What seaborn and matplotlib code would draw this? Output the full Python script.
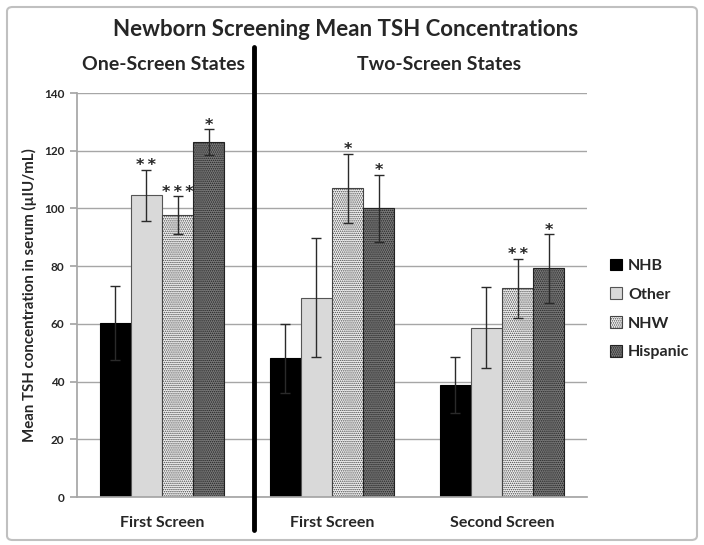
import pandas as pd
import seaborn as sns
import matplotlib.pyplot as plt
from matplotlib.patches import Patch, FancyBboxPatch
from matplotlib.lines import Line2D

# categories (internal keys + the labels shown under each bar group)
screens = ["one_first", "two_first", "two_second"]
screen_labels = ["First Screen", "First Screen", "Second Screen"]
groups = ["NHB", "Other", "NHW", "Hispanic"]

# mean TSH (µIU/mL), one list per group
nhb_mean = [60.2, 48.0, 38.8]
other_mean = [104.6, 69.1, 58.7]
nhw_mean = [97.7, 107.0, 72.3]
hisp_mean = [123.0, 100.0, 79.2]

# error bar half-widths
nhb_err = [12.8, 12.0, 9.6]
other_err = [8.8, 20.5, 13.9]
nhw_err = [6.5, 12.0, 10.3]
hisp_err = [4.5, 11.6, 11.9]

# significance marks
nhb_star = ["", "", ""]
other_star = ["**", "", ""]
nhw_star = ["***", "*", "**"]
hisp_star = ["*", "*", "*"]

means = [nhb_mean, other_mean, nhw_mean, hisp_mean]
errs = [nhb_err, other_err, nhw_err, hisp_err]
stars = [nhb_star, other_star, nhw_star, hisp_star]

rows = []
for g, m_list, e_list, s_list in zip(groups, means, errs, stars):
    for s, m, e, st in zip(screens, m_list, e_list, s_list):
        rows.append({"screen": s, "group": g, "mean": m, "err": e, "star": st})
df = pd.DataFrame(rows)

sns.set_theme(style="white")
plt.rcParams["font.family"] = ["Lato", "DejaVu Sans"]
plt.rcParams["hatch.linewidth"] = 0.7

faces = {"NHB": "#000000", "Other": "#d9d9d9", "NHW": "#f4f4f4", "Hispanic": "#7a7a7a"}
hatches = {"NHB": "", "Other": "", "NHW": "........", "Hispanic": "........"}
edges = {"NHB": "#000000", "Other": "#555555", "NHW": "#444444", "Hispanic": "#222222"}

fig = plt.figure(figsize=(7.04, 5.45), dpi=100)
ax = fig.add_axes([77 / 704, 1 - 497 / 545, 510 / 704, 404 / 545])

sns.barplot(data=df, x="screen", y="mean", hue="group", order=screens,
            hue_order=groups, palette=faces, width=0.73, errorbar=None,
            legend=False, linewidth=0.8, ax=ax)

for g, cont in zip(groups, ax.containers):
    sub = df[df["group"] == g].set_index("screen").loc[screens]
    bars = sorted(cont.patches, key=lambda p: p.get_x())
    xs = []
    for b in bars:
        b.set_facecolor(faces[g])
        b.set_edgecolor(edges[g])
        b.set_hatch(hatches[g])
        xs.append(b.get_x() + b.get_width() / 2)
    ax.errorbar(xs, sub["mean"], yerr=sub["err"], fmt="none",
                ecolor="#2a2a2a", elinewidth=1, capsize=3.5, capthick=1, zorder=5)
    for x, m, e, st in zip(xs, sub["mean"], sub["err"], sub["star"]):
        if st:
            ax.text(x, m + e + 1.4, "\u2009".join(st), ha="center", va="center",
                    fontsize=11.5, fontweight="bold", family="DejaVu Sans")

ax.set_ylim(0, 140)
ax.set_yticks(range(0, 141, 20))
ax.set_xlim(-0.5, 2.5)
ax.set_xticks(range(3))
ax.set_xticklabels(screen_labels, fontsize=11.5, fontweight="bold")
for t in ax.get_yticklabels():
    t.set_fontweight("bold")
    t.set_fontsize(8.5)
ax.yaxis.grid(True, color="#a6a6a6", linewidth=1)
ax.set_axisbelow(True)
ax.set_xlabel("")
ax.set_ylabel("Mean TSH concentration in serum (µIU/mL)", fontsize=10.8,
              fontweight="bold", labelpad=5)
for side in ["top", "right"]:
    ax.spines[side].set_visible(False)
for side in ["left", "bottom"]:
    ax.spines[side].set_color("#a6a6a6")
ax.tick_params(axis="y", length=5, color="#a6a6a6", left=True, pad=4)
ax.tick_params(axis="x", length=0, pad=14)

handles = [Patch(facecolor=faces[g], edgecolor=edges[g], hatch=hatches[g], linewidth=0.8)
           for g in groups]
leg = fig.legend(handles, groups, loc="center left",
                 bbox_to_anchor=(596 / 704, 1 - 309 / 545), frameon=False,
                 handlelength=0.75, handleheight=0.75, handletextpad=0.35,
                 labelspacing=0.9, prop={"weight": "bold", "size": 11.5})

fig.text(346 / 704, 1 - 30 / 545, "Newborn Screening Mean TSH Concentrations",
         ha="center", va="center", fontsize=16, fontweight="bold")
fig.text(163 / 704, 1 - 64 / 545, "One-Screen States", ha="center", va="center",
         fontsize=14, fontweight="bold")
fig.text(439 / 704, 1 - 64 / 545, "Two-Screen States", ha="center", va="center",
         fontsize=14, fontweight="bold")

# divider between one-screen and two-screen states
fig.add_artist(Line2D([254 / 704, 254 / 704], [1 - 47 / 545, 1 - 530 / 545],
                      color="black", linewidth=3.5, transform=fig.transFigure))
# outer chart frame
fig.add_artist(FancyBboxPatch((7 / 704, 5 / 545), 690 / 704, 533 / 545,
                              boxstyle="round,pad=0,rounding_size=0.008",
                              transform=fig.transFigure, facecolor="none",
                              edgecolor="#c0c0c0", linewidth=1.5))

fig.savefig("out.png", dpi=100)
